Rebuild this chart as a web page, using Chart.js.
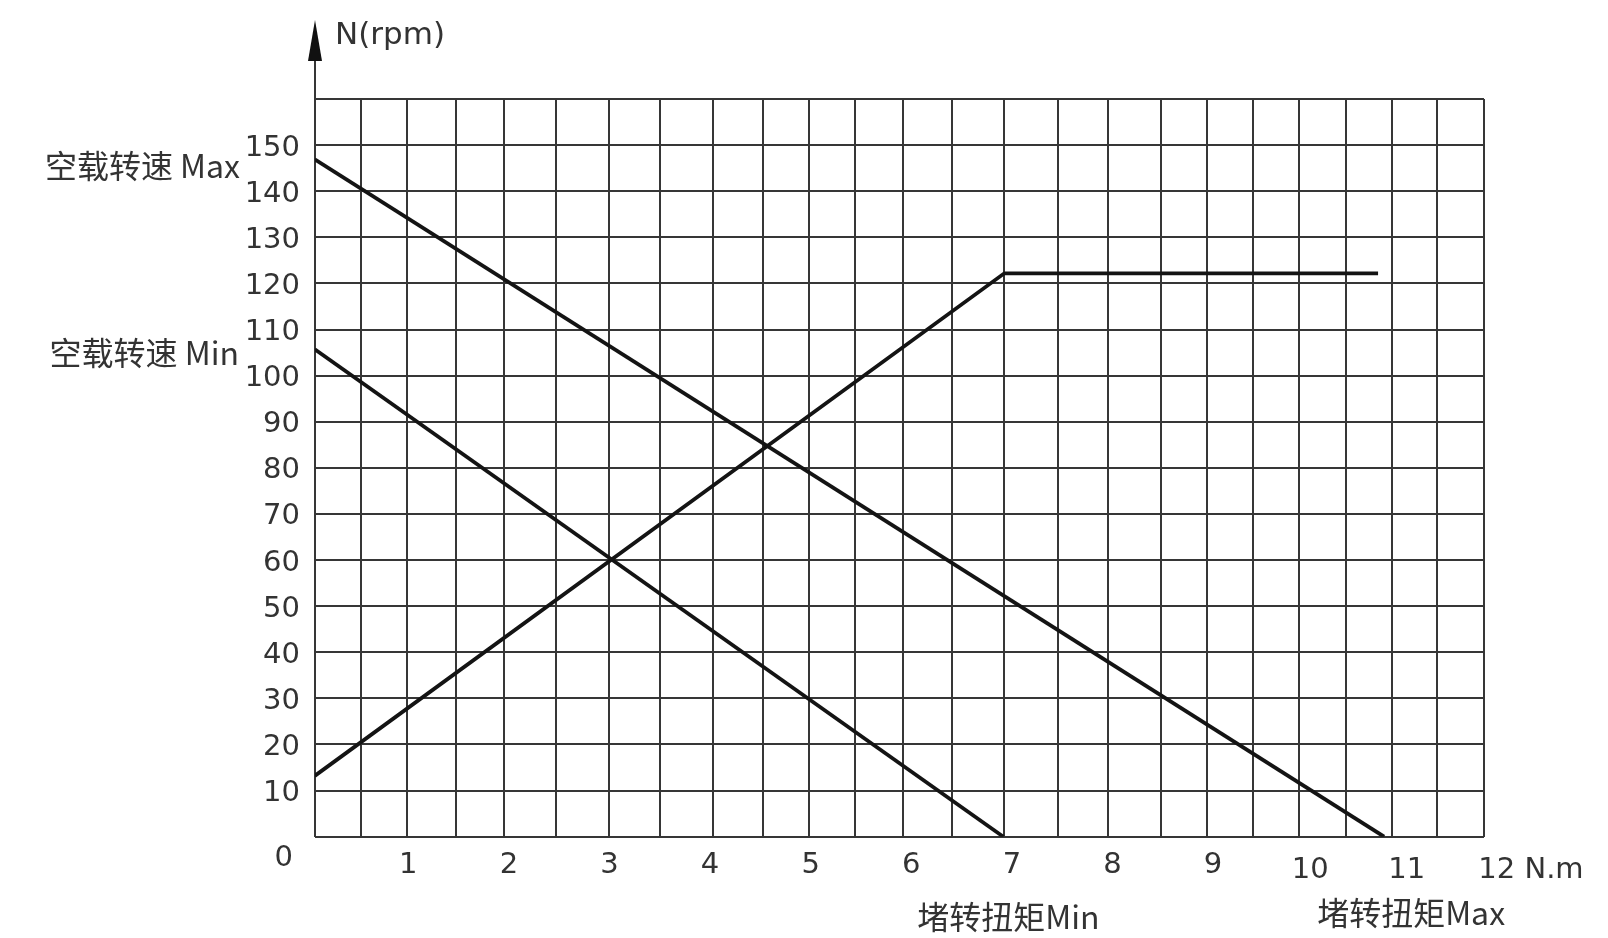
<!DOCTYPE html>
<html>
<head>
<meta charset="utf-8">
<script src="https://cdn.jsdelivr.net/npm/chart.js@4.4.1/dist/chart.umd.min.js"></script>
<style>
html,body{margin:0;padding:0;background:#fff;}
#wrap{width:1608px;height:938px;position:relative;}
</style>
</head>
<body>
<div id="wrap"><canvas id="c" width="1608" height="938"></canvas></div>
<script>
// ---- data ----
const maxLineTorque = [0.07, 10.70];          // N.m
const maxLineSpeed  = [146.9, 0];             // rpm
const minLineTorque = [0.07, 6.915];
const minLineSpeed  = [105.7, 0];
const riseTorque    = [0.07, 6.925, 10.64];
const riseSpeed     = [13.2, 122.2, 122.2];

const xTickValues = [1, 2, 3, 4, 5, 6, 7, 8, 9, 9.965, 10.925, 12.16];
const xTickLabels = ['1', '2', '3', '4', '5', '6', '7', '8', '9', '10', '11', '12 N.m'];
const yTickLabelsHidden = [0, 160];
const gridXValues = [0.0726, 0.530, 0.984, 1.474, 1.951, 2.468, 2.998, 3.502, 4.026, 4.529,
  4.983, 5.440, 5.920, 6.402, 6.925, 7.455, 7.952, 8.482, 8.936, 9.400, 9.857, 10.318,
  10.775, 11.229, 11.693];

const X_MIN = 0.0726, X_MAX = 11.693, Y_MIN = 0, Y_MAX = 160, Y_STEP = 10;

const yAxisTitle = 'N(rpm)';
const noLoadMaxLabel = '空载转速 Max';
const noLoadMinLabel = '空载转速 Min';
const stallMinLabel = '堵转扭矩Min';
const stallMaxLabel = '堵转扭矩Max';

// ---- styles ----
const LINE_COLOR = '#141414';
const GRID_COLOR = '#363636';
const TEXT_COLOR = '#333333';
const NUM_FONT = {family: 'DejaVu Sans', size: 29};
const CJK_FAMILY = '"Noto Sans CJK SC", "DejaVu Sans", sans-serif';

function pts(xs, ys) { return xs.map((v, i) => ({x: v, y: ys[i]})); }

const annot = {
  id: 'annot',
  afterDraw(chart) {
    const {ctx, chartArea: a, scales} = chart;
    const xs = scales.x, ys = scales.y;
    ctx.save();
    // y axis extension and arrow
    const ax = Math.round(a.left);
    ctx.strokeStyle = GRID_COLOR;
    ctx.lineWidth = 2;
    ctx.beginPath(); ctx.moveTo(ax, a.top); ctx.lineTo(ax, 52); ctx.stroke();
    ctx.fillStyle = '#111';
    ctx.beginPath(); ctx.moveTo(ax, 20); ctx.lineTo(ax - 7, 61); ctx.lineTo(ax + 7, 61); ctx.closePath(); ctx.fill();

    ctx.fillStyle = TEXT_COLOR;
    // axis title
    ctx.font = '31px "DejaVu Sans"';
    ctx.textAlign = 'left'; ctx.textBaseline = 'middle';
    ctx.fillText(yAxisTitle, ax + 20, 36);

    // origin label "0"
    ctx.font = '29px "DejaVu Sans"';
    ctx.textAlign = 'right';
    ctx.fillText('0', a.left - 22, ys.getPixelForValue(0) + 22);

    // no-load speed labels
    ctx.font = '32px ' + CJK_FAMILY;
    ctx.textAlign = 'right';
    ctx.fillText(noLoadMaxLabel, a.left - 75, ys.getPixelForValue(maxLineSpeed[0]) + 6);
    ctx.fillText(noLoadMinLabel, a.left - 76, ys.getPixelForValue(minLineSpeed[0]) + 3);

    // stall torque labels
    ctx.textAlign = 'center';
    ctx.fillText(stallMinLabel, xs.getPixelForValue(minLineTorque[1]) + 5, 917);
    ctx.fillText(stallMaxLabel, xs.getPixelForValue(maxLineTorque[1]) + 27, 913);
    ctx.restore();
  }
};

const lineDs = (label, data) => ({
  label, data, xAxisID: 'x', yAxisID: 'y',
  borderColor: LINE_COLOR, borderWidth: 3.8, pointRadius: 0, tension: 0,
  borderJoinStyle: 'miter', borderCapStyle: 'butt', fill: false
});

new Chart(document.getElementById('c'), {
  type: 'line',
  data: {
    datasets: [
      lineDs('max', pts(maxLineTorque, maxLineSpeed)),
      lineDs('min', pts(minLineTorque, minLineSpeed)),
      lineDs('rise', pts(riseTorque, riseSpeed))
    ]
  },
  options: {
    responsive: false,
    animation: false,
    devicePixelRatio: 1,
    layout: {padding: {left: 0, top: 99, right: 124, bottom: 0}},
    plugins: {legend: {display: false}, tooltip: {enabled: false}},
    scales: {
      xg: {
        type: 'linear', position: 'bottom', min: X_MIN, max: X_MAX,
        afterBuildTicks: s => { s.ticks = gridXValues.map(v => ({value: v})); },
        afterFit: s => { s.height = 0; },
        ticks: {display: false},
        border: {display: false},
        grid: {color: GRID_COLOR, lineWidth: 2, drawTicks: false}
      },
      x: {
        type: 'linear', position: 'bottom', min: X_MIN, max: X_MAX,
        afterBuildTicks: s => { s.ticks = xTickValues.map(v => ({value: v})); },
        afterFit: s => { s.height = 938 - 836.7; },
        ticks: {autoSkip: false, maxRotation: 0, padding: 11, color: TEXT_COLOR,
          font: c => ({family: 'DejaVu Sans', size: 29, lineHeight: c.index >= 9 ? 1.6 : 1.2}),
          callback: (v, i) => xTickLabels[i]},
        border: {display: false},
        grid: {display: false, drawTicks: false}
      },
      y: {
        type: 'linear', position: 'left', min: Y_MIN, max: Y_MAX,
        afterFit: s => { s.width = 315; },
        ticks: {stepSize: Y_STEP, padding: 15, labelOffset: 3, font: NUM_FONT, color: TEXT_COLOR,
          callback: v => yTickLabelsHidden.includes(v) ? '' : String(v)},
        border: {display: false},
        grid: {color: GRID_COLOR, lineWidth: 2, drawTicks: false}
      }
    }
  },
  plugins: [annot]
});
</script>
</body>
</html>
